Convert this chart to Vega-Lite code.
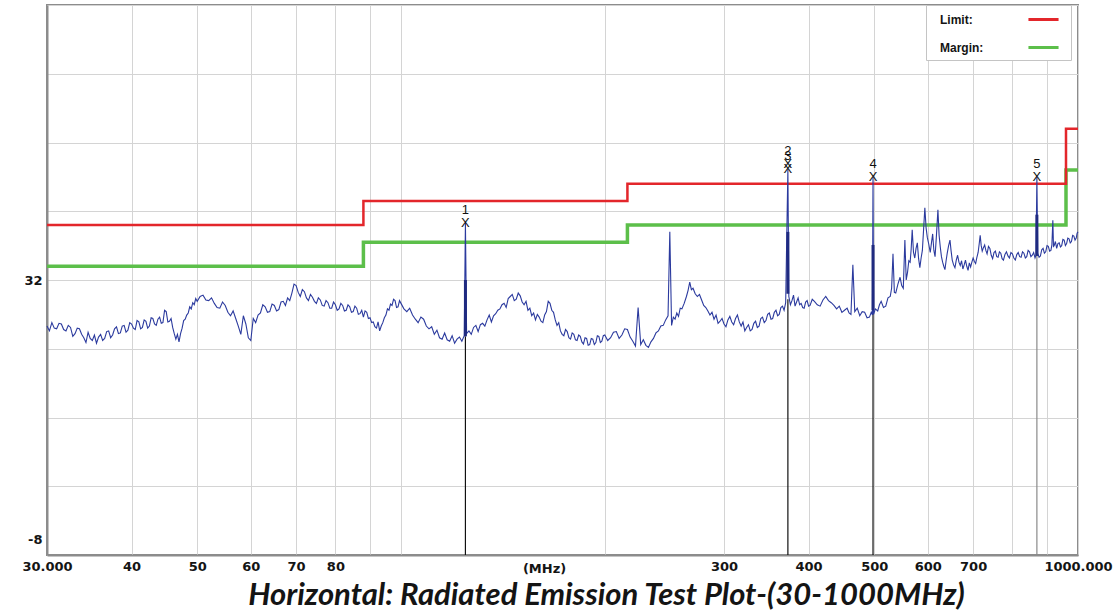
{
  "$schema": "https://vega.github.io/schema/vega-lite/v6.json",
  "width": 1031,
  "height": 550,
  "autosize": {"type": "none"},
  "padding": {"left": 47, "top": 5, "right": 36, "bottom": 61},
  "background": "white",
  "config": {
    "view": {"stroke": "#8c8c8c", "strokeWidth": 2}
  },
  "title": {
    "text": "Horizontal: Radiated Emission Test Plot-(30-1000MHz)",
    "orient": "bottom",
    "anchor": "middle",
    "font": "Lato",
    "fontSize": 31,
    "fontStyle": "italic",
    "fontWeight": "bold",
    "color": "#141414",
    "dx": 44,
    "offset": 6
  },
  "datasets": {
    "trace": [
      {"f":30,"v":25.3},{"f":30.25,"v":24.6},{"f":30.5,"v":25.8},{"f":30.75,"v":25.0},{"f":31,"v":24.9},{"f":31.25,"v":25.7},{"f":31.5,"v":25.6},{"f":31.75,"v":24.8},{"f":32,"v":24.6},{"f":32.25,"v":25.4},
      {"f":32.5,"v":25.1},{"f":32.75,"v":23.8},{"f":33,"v":24.2},{"f":33.25,"v":25.0},{"f":33.5,"v":24.9},{"f":33.75,"v":24.1},{"f":34,"v":23.6},{"f":34.25,"v":22.9},{"f":34.5,"v":24.4},{"f":34.75,"v":23.5},
      {"f":35,"v":23.2},{"f":35.25,"v":24.0},{"f":35.5,"v":22.8},{"f":35.75,"v":23.7},{"f":36,"v":24.1},{"f":36.25,"v":23.2},{"f":36.5,"v":23.5},{"f":36.75,"v":24.5},{"f":37,"v":24.6},{"f":37.25,"v":23.6},
      {"f":37.5,"v":24.0},{"f":37.75,"v":24.9},{"f":38,"v":25.2},{"f":38.25,"v":24.2},{"f":38.5,"v":24.3},{"f":38.75,"v":25.3},{"f":39,"v":25.4},{"f":39.25,"v":24.4},{"f":39.5,"v":24.7},{"f":39.75,"v":25.8},
      {"f":40,"v":25.6},{"f":40.25,"v":25.0},{"f":40.5,"v":24.8},{"f":40.75,"v":26.1},{"f":41,"v":25.9},{"f":41.25,"v":24.9},{"f":41.5,"v":25.1},{"f":41.75,"v":26.2},{"f":42,"v":26.0},{"f":42.25,"v":25.0},
      {"f":42.5,"v":25.3},{"f":42.75,"v":26.5},{"f":43,"v":26.4},{"f":43.25,"v":25.6},{"f":43.5,"v":25.4},{"f":43.75,"v":26.3},{"f":44,"v":26.6},{"f":44.25,"v":25.7},{"f":44.5,"v":25.8},{"f":44.75,"v":27.6},
      {"f":45,"v":27.4},{"f":45.25,"v":25.9},{"f":45.5,"v":26.0},{"f":45.75,"v":26.4},{"f":46,"v":25.1},{"f":46.25,"v":24.2},{"f":46.5,"v":23.4},{"f":46.75,"v":24.1},{"f":47,"v":23.0},{"f":47.25,"v":24.2},
      {"f":47.5,"v":25.0},{"f":47.75,"v":26.1},{"f":48,"v":26.3},{"f":48.25,"v":26.9},{"f":48.5,"v":27.2},{"f":48.75,"v":28.1},{"f":49,"v":27.8},{"f":49.25,"v":28.7},{"f":49.5,"v":28.4},{"f":49.75,"v":29.3},
      {"f":50,"v":28.9},{"f":50.5,"v":29.6},{"f":51,"v":29.8},{"f":51.5,"v":29.1},{"f":52,"v":29.0},{"f":52.5,"v":29.4},{"f":53,"v":28.6},{"f":53.5,"v":28.0},{"f":54,"v":27.9},{"f":54.5,"v":28.8},
      {"f":55,"v":28.3},{"f":55.5,"v":27.3},{"f":56,"v":26.8},{"f":56.5,"v":27.5},{"f":57,"v":26.4},{"f":57.5,"v":25.3},{"f":58,"v":24.1},{"f":58.5,"v":26.8},{"f":59,"v":25.6},{"f":59.5,"v":23.6},
      {"f":60,"v":23.2},{"f":60.5,"v":26.4},{"f":61,"v":25.8},{"f":61.5,"v":26.9},{"f":62,"v":27.2},{"f":62.5,"v":28.4},{"f":63,"v":28.1},{"f":63.5,"v":27.3},{"f":64,"v":27.4},{"f":64.5,"v":28.5},
      {"f":65,"v":28.3},{"f":65.5,"v":27.5},{"f":66,"v":27.7},{"f":66.5,"v":28.8},{"f":67,"v":28.9},{"f":67.5,"v":28.3},{"f":68,"v":29.4},{"f":68.5,"v":29.0},{"f":69,"v":30.1},{"f":69.5,"v":31.4},
      {"f":70,"v":31.2},{"f":70.5,"v":30.2},{"f":71,"v":29.6},{"f":71.5,"v":30.6},{"f":72,"v":30.3},{"f":72.5,"v":29.4},{"f":73,"v":29.0},{"f":73.5,"v":29.9},{"f":74,"v":29.5},{"f":74.5,"v":28.9},
      {"f":75,"v":28.6},{"f":75.5,"v":29.4},{"f":76,"v":29.1},{"f":76.5,"v":28.3},{"f":77,"v":28.2},{"f":77.5,"v":29.0},{"f":78,"v":28.7},{"f":78.5,"v":27.9},{"f":79,"v":27.9},{"f":79.5,"v":28.8},
      {"f":80,"v":28.4},{"f":80.5,"v":27.6},{"f":81,"v":27.8},{"f":81.5,"v":28.6},{"f":82,"v":28.3},{"f":82.5,"v":27.5},{"f":83,"v":27.6},{"f":83.5,"v":28.4},{"f":84,"v":28.1},{"f":84.5,"v":27.3},
      {"f":85,"v":27.4},{"f":85.5,"v":28.2},{"f":86,"v":27.9},{"f":86.5,"v":27.0},{"f":87,"v":27.1},{"f":87.5,"v":27.6},{"f":88,"v":26.6},{"f":88.5,"v":27.5},{"f":89,"v":27.3},{"f":89.5,"v":26.4},
      {"f":90,"v":26.5},{"f":90.5,"v":25.8},{"f":91,"v":25.9},{"f":91.5,"v":25.2},{"f":92,"v":25.0},{"f":92.5,"v":25.9},{"f":93,"v":24.6},{"f":93.5,"v":25.3},{"f":94,"v":25.8},{"f":94.5,"v":26.5},
      {"f":95,"v":26.9},{"f":95.5,"v":27.8},{"f":96,"v":27.6},{"f":96.5,"v":28.5},{"f":97,"v":28.3},{"f":97.5,"v":29.2},{"f":98,"v":29.0},{"f":98.5,"v":28.0},{"f":99,"v":28.1},{"f":99.5,"v":29.0},
      {"f":100,"v":28.6},{"f":101,"v":27.8},{"f":102,"v":27.4},{"f":103,"v":27.9},{"f":104,"v":26.9},{"f":105,"v":26.3},{"f":106,"v":25.8},{"f":107,"v":26.6},{"f":108,"v":26.3},{"f":109,"v":25.3},
      {"f":110,"v":24.9},{"f":111,"v":25.2},{"f":112,"v":24.1},{"f":113,"v":24.7},{"f":114,"v":23.6},{"f":115,"v":23.4},{"f":116,"v":24.3},{"f":117,"v":23.3},{"f":118,"v":23.1},{"f":119,"v":23.9},
      {"f":120,"v":22.8},{"f":121,"v":23.4},{"f":122,"v":23.7},{"f":123,"v":23.1},{"f":124,"v":23.9},{"f":124.5,"v":40.3},{"f":125,"v":24.2},{"f":126,"v":24.6},{"f":127,"v":24.1},{"f":128,"v":25.1},
      {"f":129,"v":25.4},{"f":130,"v":24.5},{"f":131,"v":25.5},{"f":132,"v":25.7},{"f":133,"v":25.3},{"f":134,"v":26.2},{"f":135,"v":26.9},{"f":136,"v":25.9},{"f":137,"v":26.8},{"f":138,"v":27.1},
      {"f":139,"v":27.6},{"f":140,"v":27.8},{"f":141,"v":28.4},{"f":142,"v":28.6},{"f":143,"v":28.0},{"f":144,"v":29.3},{"f":145,"v":29.6},{"f":146,"v":29.9},{"f":147,"v":29.0},{"f":148,"v":29.2},
      {"f":149,"v":30.1},{"f":150,"v":29.7},{"f":151,"v":28.8},{"f":152,"v":28.4},{"f":153,"v":28.9},{"f":154,"v":27.6},{"f":155,"v":27.9},{"f":156,"v":26.8},{"f":157,"v":27.2},{"f":158,"v":26.2},
      {"f":159,"v":27.0},{"f":160,"v":26.6},{"f":161,"v":26.0},{"f":162,"v":25.8},{"f":163,"v":26.9},{"f":164,"v":27.4},{"f":165,"v":28.9},{"f":166,"v":28.6},{"f":167,"v":27.6},{"f":168,"v":27.3},
      {"f":169,"v":26.2},{"f":170,"v":25.4},{"f":171,"v":25.8},{"f":172,"v":24.6},{"f":173,"v":24.1},{"f":174,"v":23.9},{"f":175,"v":24.8},{"f":176,"v":24.5},{"f":177,"v":23.6},{"f":178,"v":23.4},
      {"f":179,"v":24.3},{"f":180,"v":24.1},{"f":181,"v":23.3},{"f":182,"v":23.2},{"f":183,"v":24.0},{"f":184,"v":23.8},{"f":185,"v":23.0},{"f":186,"v":22.7},{"f":187,"v":23.6},{"f":188,"v":23.5},
      {"f":189,"v":22.5},{"f":190,"v":22.6},{"f":191,"v":23.5},{"f":192,"v":23.4},{"f":193,"v":22.6},{"f":194,"v":22.9},{"f":195,"v":23.9},{"f":196,"v":23.8},{"f":197,"v":22.9},{"f":198,"v":23.1},
      {"f":199,"v":23.9},{"f":200,"v":24.0},{"f":202,"v":23.2},{"f":204,"v":23.6},{"f":206,"v":24.4},{"f":208,"v":24.5},{"f":210,"v":23.5},{"f":212,"v":24.0},{"f":214,"v":24.9},{"f":216,"v":24.8},
      {"f":218,"v":23.7},{"f":220,"v":23.1},{"f":222,"v":22.4},{"f":224,"v":28.0},{"f":226,"v":22.6},{"f":228,"v":23.3},{"f":230,"v":22.5},{"f":232,"v":22.2},{"f":234,"v":23.0},{"f":236,"v":23.5},
      {"f":238,"v":24.3},{"f":240,"v":24.6},{"f":242,"v":25.3},{"f":244,"v":25.4},{"f":246,"v":26.2},{"f":248,"v":26.8},{"f":249.5,"v":39.0},{"f":251,"v":25.4},{"f":252.5,"v":26.6},{"f":254,"v":26.3},
      {"f":255.5,"v":27.2},{"f":257,"v":26.7},{"f":258.5,"v":27.9},{"f":260,"v":27.8},{"f":262,"v":28.6},{"f":264,"v":29.6},{"f":265.5,"v":30.5},{"f":267,"v":31.7},{"f":268.5,"v":30.6},{"f":270,"v":30.8},
      {"f":272,"v":30.0},{"f":274,"v":29.6},{"f":276,"v":29.9},{"f":278,"v":29.1},{"f":280,"v":28.3},{"f":282,"v":28.0},{"f":284,"v":27.5},{"f":286,"v":26.9},{"f":288,"v":27.3},{"f":290,"v":26.3},
      {"f":292,"v":26.9},{"f":294,"v":25.7},{"f":296,"v":26.0},{"f":298,"v":26.4},{"f":300,"v":25.6},{"f":302,"v":25.2},{"f":304,"v":26.2},{"f":306,"v":26.7},{"f":308,"v":25.9},{"f":310,"v":25.5},
      {"f":312,"v":26.4},{"f":314,"v":26.9},{"f":316,"v":25.9},{"f":318,"v":25.3},{"f":320,"v":25.9},{"f":322,"v":24.6},{"f":324,"v":25.1},{"f":326,"v":25.5},{"f":328,"v":24.6},{"f":330,"v":24.8},
      {"f":332,"v":25.7},{"f":334,"v":26.0},{"f":336,"v":25.1},{"f":338,"v":25.3},{"f":340,"v":26.4},{"f":342,"v":26.6},{"f":344,"v":25.8},{"f":346,"v":26.1},{"f":348,"v":27.0},{"f":350,"v":27.2},
      {"f":352,"v":26.3},{"f":354,"v":26.4},{"f":356,"v":27.3},{"f":358,"v":27.6},{"f":360,"v":26.8},{"f":362,"v":27.0},{"f":364,"v":28.0},{"f":366,"v":28.2},{"f":368,"v":27.6},{"f":370,"v":28.7},
      {"f":372.8,"v":48.1},{"f":374,"v":29.6},{"f":376,"v":28.4},{"f":378,"v":29.0},{"f":380,"v":29.8},{"f":382,"v":28.2},{"f":384,"v":28.8},{"f":386,"v":29.4},{"f":388,"v":28.4},{"f":390,"v":28.6},
      {"f":392,"v":28.0},{"f":394,"v":27.9},{"f":396,"v":28.8},{"f":398,"v":29.0},{"f":400,"v":28.2},{"f":402,"v":28.3},{"f":405,"v":29.2},{"f":408,"v":28.9},{"f":412,"v":28.4},{"f":416,"v":28.2},
      {"f":420,"v":29.1},{"f":424,"v":29.6},{"f":428,"v":29.0},{"f":432,"v":28.7},{"f":436,"v":28.3},{"f":440,"v":27.8},{"f":444,"v":28.2},{"f":448,"v":27.3},{"f":452,"v":27.6},{"f":456,"v":27.9},
      {"f":459,"v":27.2},{"f":462,"v":27.0},{"f":465,"v":34.2},{"f":468,"v":27.4},{"f":472,"v":27.9},{"f":476,"v":26.8},{"f":480,"v":27.4},{"f":484,"v":27.3},{"f":488,"v":26.5},{"f":492,"v":26.6},
      {"f":495,"v":27.3},{"f":497,"v":26.9},{"f":498,"v":47.0},{"f":499,"v":27.0},{"f":502,"v":27.8},{"f":506,"v":27.5},{"f":509,"v":28.4},{"f":512,"v":28.9},{"f":516,"v":28.0},{"f":520,"v":28.2},
      {"f":524,"v":29.4},{"f":528,"v":29.6},{"f":530.5,"v":30.8},{"f":533,"v":35.8},{"f":535.5,"v":30.2},{"f":538,"v":30.1},{"f":542,"v":31.4},{"f":546,"v":32.4},{"f":549,"v":31.2},{"f":552,"v":30.8},
      {"f":555,"v":37.8},{"f":557.5,"v":32.0},{"f":560,"v":33.1},{"f":562.5,"v":34.8},{"f":565,"v":34.6},{"f":567,"v":36.5},{"f":569,"v":39.3},{"f":571.5,"v":36.0},{"f":574,"v":35.2},{"f":576.5,"v":36.6},
      {"f":579,"v":37.4},{"f":581.5,"v":35.1},{"f":584,"v":33.8},{"f":586.5,"v":35.2},{"f":589,"v":36.3},{"f":591.5,"v":39.4},{"f":594,"v":42.5},{"f":596.5,"v":39.6},{"f":599,"v":38.2},{"f":602,"v":37.2},
      {"f":605,"v":36.0},{"f":607.5,"v":37.4},{"f":610,"v":38.7},{"f":612.5,"v":36.3},{"f":615,"v":35.4},{"f":618,"v":38.6},{"f":621,"v":42.2},{"f":623.5,"v":38.5},{"f":626,"v":36.8},{"f":628.5,"v":35.4},
      {"f":631,"v":34.6},{"f":633.5,"v":34.0},{"f":636,"v":33.5},{"f":638.5,"v":34.8},{"f":641,"v":35.9},{"f":644,"v":37.0},{"f":647,"v":37.8},{"f":649.5,"v":36.2},{"f":652,"v":34.9},{"f":655,"v":34.2},
      {"f":658,"v":33.8},{"f":661,"v":34.9},{"f":664,"v":35.6},{"f":667,"v":34.6},{"f":670,"v":34.1},{"f":673,"v":34.8},{"f":676,"v":33.6},{"f":679,"v":34.2},{"f":682,"v":34.9},{"f":685,"v":34.0},
      {"f":688,"v":33.4},{"f":691,"v":34.5},{"f":694,"v":33.9},{"f":697,"v":34.6},{"f":700,"v":35.2},{"f":703,"v":34.7},{"f":706,"v":34.4},{"f":709,"v":35.3},{"f":712,"v":36.0},{"f":714.5,"v":37.2},
      {"f":717,"v":38.5},{"f":719.5,"v":37.0},{"f":722,"v":36.2},{"f":725,"v":36.7},{"f":728,"v":37.1},{"f":731,"v":36.3},{"f":734,"v":35.8},{"f":737.5,"v":36.9},{"f":741,"v":36.6},{"f":744.5,"v":35.6},
      {"f":748,"v":35.1},{"f":751.5,"v":36.0},{"f":755,"v":36.2},{"f":758.5,"v":35.4},{"f":762,"v":35.3},{"f":765.5,"v":36.1},{"f":769,"v":35.9},{"f":772.5,"v":35.1},{"f":776,"v":34.9},{"f":780,"v":35.7},
      {"f":784,"v":36.1},{"f":788,"v":35.5},{"f":792,"v":35.2},{"f":796,"v":36.0},{"f":800,"v":35.8},{"f":804,"v":35.2},{"f":808,"v":34.9},{"f":812,"v":35.7},{"f":816,"v":36.0},{"f":820,"v":35.4},
      {"f":824,"v":35.3},{"f":828,"v":36.1},{"f":832,"v":35.9},{"f":836,"v":35.2},{"f":840,"v":35.4},{"f":844,"v":36.3},{"f":848,"v":36.1},{"f":852,"v":35.4},{"f":856,"v":35.6},{"f":860,"v":36.0},
      {"f":864,"v":35.2},{"f":867,"v":35.6},{"f":869.5,"v":47.0},{"f":872,"v":35.9},{"f":876,"v":35.3},{"f":880,"v":35.5},{"f":884,"v":36.4},{"f":888,"v":36.6},{"f":892,"v":35.9},{"f":896,"v":36.1},
      {"f":900,"v":37.0},{"f":904,"v":36.9},{"f":908,"v":36.2},{"f":912,"v":36.3},{"f":915,"v":37.1},{"f":918,"v":40.7},{"f":920,"v":36.9},{"f":922,"v":37.0},{"f":926,"v":37.6},{"f":930,"v":36.6},
      {"f":934,"v":37.3},{"f":938,"v":37.4},{"f":942,"v":36.8},{"f":946,"v":37.0},{"f":950,"v":37.9},{"f":954,"v":37.8},{"f":958,"v":37.0},{"f":962,"v":37.3},{"f":966,"v":38.1},{"f":970,"v":38.0},
      {"f":974,"v":37.4},{"f":978,"v":37.6},{"f":982,"v":38.5},{"f":986,"v":38.4},{"f":990,"v":37.8},{"f":994,"v":38.1},{"f":997,"v":38.8},{"f":1000,"v":39.0}
    ],
    "lim": [
      {"s":"Limit:","f":30,"v":40},{"s":"Limit:","f":88,"v":43.5},{"s":"Limit:","f":216,"v":46},{"s":"Limit:","f":960,"v":54},{"s":"Limit:","f":1000,"v":54},
      {"s":"Margin:","f":30,"v":34},{"s":"Margin:","f":88,"v":37.5},{"s":"Margin:","f":216,"v":40},{"s":"Margin:","f":960,"v":48},{"s":"Margin:","f":1000,"v":48}
    ],
    "rules": [
      {"n":"1","f":124.5,"v":23.8,"v2":-8},
      {"n":"2","f":372.8,"v":29.2,"v2":-8},
      {"n":"4","f":498,"v":27.6,"v2":-8},
      {"n":"5","f":869.5,"v":35.6,"v2":-8}
    ],
    "thick": [
      {"f":124.5,"v":23.8,"v2":32.0},
      {"f":372.8,"v":30.0,"v2":39.0},
      {"f":498,"v":27.6,"v2":37.1},
      {"f":869.5,"v":35.5,"v2":41.5}
    ],
    "mk": [
      {"n":"1","f":124.5,"v":40.3},
      {"n":"2","f":372.8,"v":48.9},
      {"n":"3","f":372.8,"v":48.1},
      {"n":"4","f":498,"v":47.0},
      {"n":"5","f":869.5,"v":47.0}
    ]
  },
  "encoding": {
    "x": {
      "field": "f",
      "type": "quantitative",
      "scale": {"type": "log", "domain": [30, 1000], "nice": false},
      "axis": {
        "title": "(MHz)",
        "titleX": 497,
        "titleY": 13,
        "titleBaseline": "middle",
        "titleAlign": "center",
        "titleFont": "DejaVu Sans",
        "titleFontSize": 13,
        "titleFontWeight": "bold",
        "titleColor": "#141414",
        "values": [30,40,50,60,70,80,90,100,200,300,400,500,600,700,800,900,1000],
        "labelExpr": "datum.value==30?'30.000':datum.value==1000?'1000.000':(indexof([40,50,60,70,80,300,400,500,600,700],datum.value)>=0?''+datum.value:'')",
        "labelFont": "DejaVu Sans",
        "labelFontSize": 13,
        "labelFontWeight": "bold",
        "labelColor": "#141414",
        "labelPadding": 5,
        "labelOverlap": false,
        "labelFlush": false,
        "ticks": false,
        "domainColor": "#8c8c8c",
        "domainWidth": 2,
        "grid": true,
        "gridColor": "#d4d4d4",
        "gridWidth": 1,
        "encode": {
          "labels": {
            "update": {
              "dx": {"signal": "datum.value==30 ? 10 : (datum.value==1000 ? -6 : 0)"}
            }
          }
        }
      }
    },
    "y": {
      "field": "v",
      "type": "quantitative",
      "scale": {"domain": [-8, 72], "nice": false, "zero": false},
      "axis": {
        "title": null,
        "values": [-8,2,12,22,32,42,52,62,72],
        "labelExpr": "datum.value==32||datum.value==-8?''+datum.value:''",
        "labelFont": "DejaVu Sans",
        "labelFontSize": 13,
        "labelFontWeight": "bold",
        "labelColor": "#141414",
        "labelPadding": 5,
        "labelOffset": {"condition": {"test": "datum.value<0", "value": -16}, "value": 0},
        "labelOverlap": false,
        "ticks": false,
        "domainColor": "#8c8c8c",
        "domainWidth": 2,
        "grid": true,
        "gridColor": "#d4d4d4",
        "gridWidth": 1
      }
    }
  },
  "layer": [
    {
      "data": {"name": "lim"},
      "transform": [{"filter": "datum.s=='Margin:'"}],
      "mark": {"type": "line", "interpolate": "step-after", "strokeWidth": 3.5},
      "encoding": {
        "color": {
          "field": "s",
          "type": "nominal",
          "scale": {"domain": ["Limit:", "Margin:"], "range": ["#e3262b", "#5cbf4a"]},
          "legend": {
            "title": null,
            "orient": "none",
            "legendX": 879,
            "legendY": 0,
            "symbolType": "M-2.15,0H2.15",
            "symbolSize": 196,
            "symbolStrokeWidth": 3,
            "symbolOffset": 103,
            "labelOffset": -112,
            "labelFont": "Liberation Sans",
            "labelFontSize": 12,
            "labelFontWeight": "bold",
            "labelColor": "#141414",
            "padding": 6,
            "fillColor": "white",
            "strokeColor": "#c4c4c4",
            "rowPadding": 13
          }
        }
      }
    },
    {
      "data": {"name": "lim"},
      "transform": [{"filter": "datum.s=='Limit:'"}],
      "mark": {"type": "line", "interpolate": "step-after", "strokeWidth": 2.5},
      "encoding": {
        "color": {"field": "s", "type": "nominal"}
      }
    },
    {
      "data": {"name": "rules"},
      "mark": {"type": "rule", "strokeWidth": 1.2},
      "encoding": {
        "y2": {"field": "v2"},
        "color": {"condition": {"test": "datum.n=='5'", "value": "#8a8a8a"}, "value": "#111111"}
      }
    },
    {
      "data": {"name": "trace"},
      "mark": {"type": "line", "color": "#2b3a9e", "strokeWidth": 1.1},
      "encoding": {}
    },
    {
      "data": {"name": "thick"},
      "mark": {"type": "rule", "color": "#1f2a80", "strokeWidth": 3},
      "encoding": {"y2": {"field": "v2"}}
    },
    {
      "data": {"name": "mk"},
      "mark": {"type": "text", "text": "X", "font": "Liberation Sans", "fontSize": 13, "color": "#111111", "baseline": "middle", "align": "center"},
      "encoding": {}
    },
    {
      "data": {"name": "mk"},
      "mark": {"type": "text", "font": "Liberation Sans", "fontSize": 13, "color": "#111111", "baseline": "middle", "align": "center", "dy": -13},
      "encoding": {"text": {"field": "n"}}
    }
  ]
}
